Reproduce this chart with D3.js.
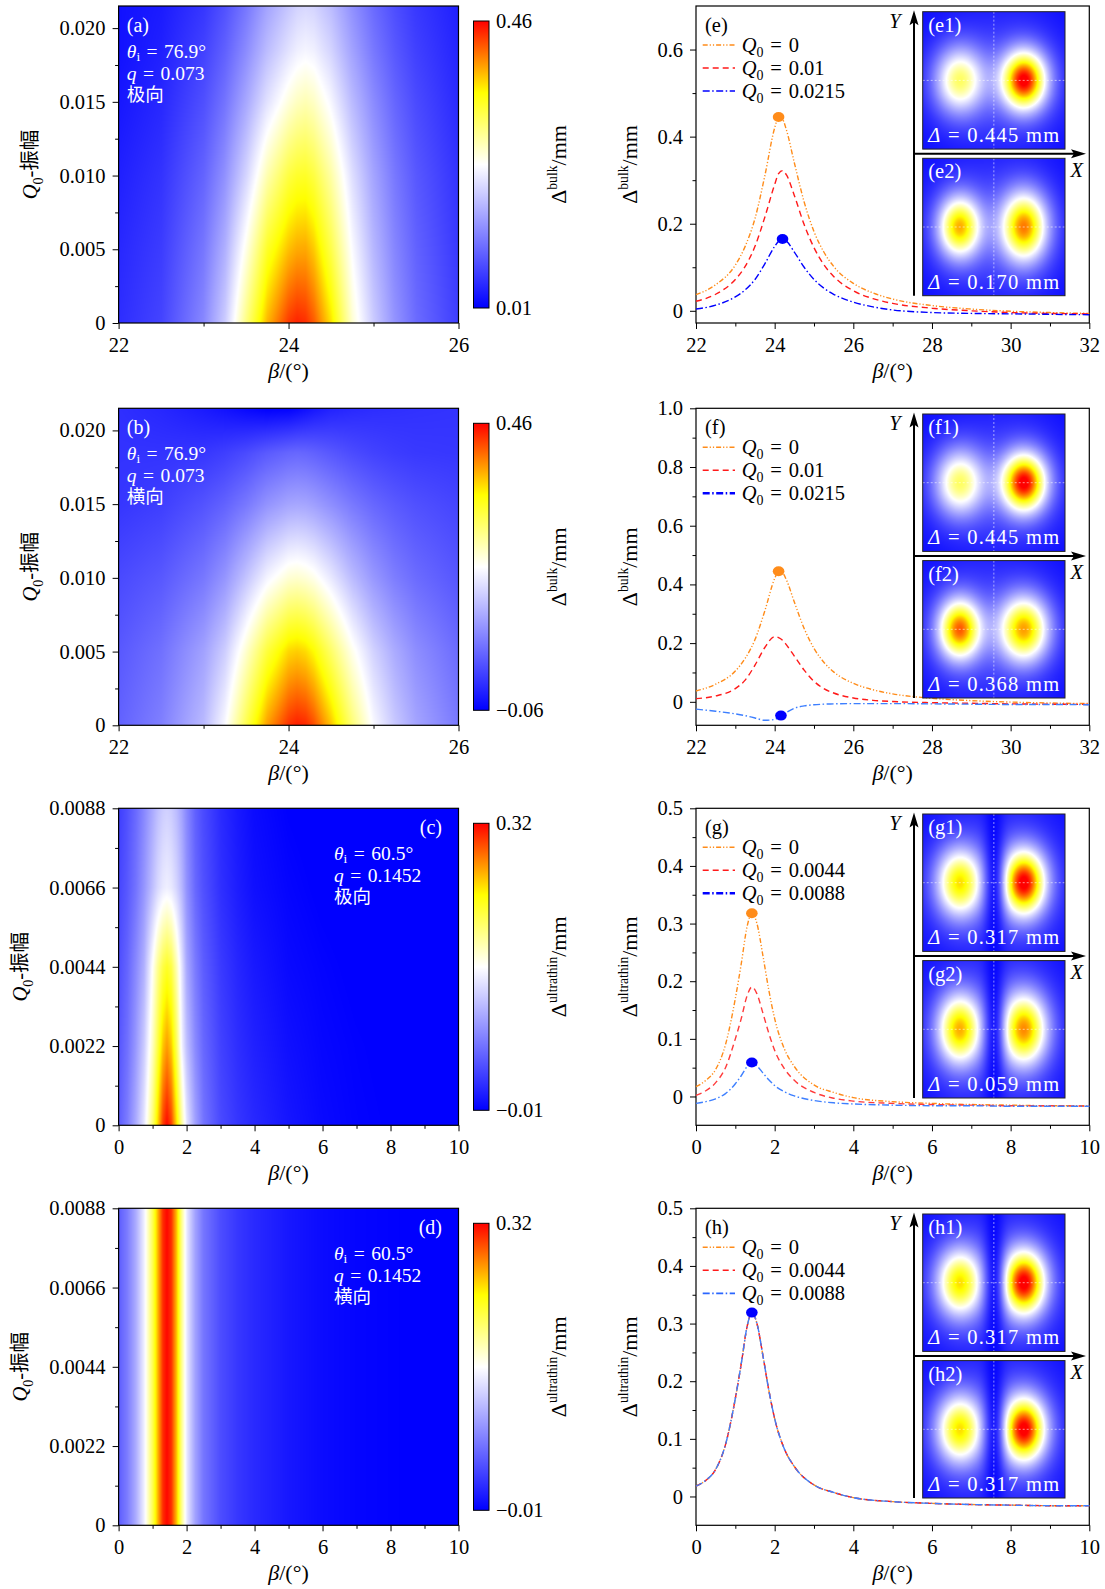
<!DOCTYPE html>
<html><head><meta charset="utf-8">
<script src="https://cdn.jsdelivr.net/npm/d3@7/dist/d3.min.js"></script>
<style>
html,body{margin:0;padding:0;background:#fff}
svg{display:block}
svg text{font-family:"Liberation Serif","Noto Sans CJK SC",serif;white-space:pre}
</style></head><body>
<svg id="fig" width="1105" height="1589" viewBox="0 0 1105 1589"></svg>
<script>
// ================= DATA =================
// bulk curves (panels e, f)
const betaBulk = [22,22.5,23,23.25,23.5,23.75,24,24.1,24.2,24.3,24.5,24.75,25,25.25,25.5,26,26.5,27,28,29,30,31,32];
const bulkQ0_0      = [0.037,0.06,0.105,0.148,0.212,0.31,0.42,0.445,0.44,0.415,0.34,0.25,0.182,0.135,0.102,0.063,0.041,0.027,0.012,0.004,-0.001,-0.004,-0.006];
const ePolarQ0_010  = [0.022,0.038,0.072,0.102,0.148,0.215,0.29,0.315,0.322,0.312,0.265,0.198,0.145,0.106,0.079,0.046,0.028,0.017,0.006,0.0,-0.004,-0.006,-0.007];
const ePolarQ0_0215 = [0.004,0.013,0.032,0.048,0.072,0.108,0.148,0.16,0.165,0.16,0.135,0.1,0.072,0.052,0.038,0.02,0.009,0.002,-0.004,-0.006,-0.007,-0.008,-0.009];
const fTransQ0_010  = [0.011,0.02,0.045,0.074,0.125,0.185,0.222,0.219,0.21,0.194,0.156,0.108,0.07,0.045,0.03,0.013,0.005,0.001,-0.003,-0.005,-0.007,-0.008,-0.009];
const fTransQ0_0215 = [-0.025,-0.032,-0.041,-0.047,-0.055,-0.063,-0.06,-0.053,-0.045,-0.036,-0.022,-0.014,-0.01,-0.008,-0.007,-0.006,-0.006,-0.006,-0.007,-0.008,-0.009,-0.009,-0.01];
// ultrathin curves (panels g, h)
const betaThin = [0,0.25,0.5,0.75,1,1.15,1.3,1.42,1.55,1.7,1.85,2,2.25,2.5,3,3.5,4,5,6,7,8,9,10];
const gPolarQ0_0    = [0.017,0.028,0.047,0.09,0.17,0.23,0.295,0.318,0.3,0.245,0.185,0.135,0.082,0.052,0.02,0.007,-0.002,-0.009,-0.012,-0.014,-0.015,-0.016,-0.016];
const gPolarQ0_0044 = [0.002,0.01,0.024,0.05,0.1,0.135,0.175,0.19,0.178,0.145,0.11,0.08,0.048,0.028,0.007,-0.003,-0.008,-0.012,-0.014,-0.015,-0.016,-0.016,-0.017];
const gPolarQ0_0088 = [-0.012,-0.009,-0.004,0.005,0.022,0.036,0.052,0.059,0.053,0.041,0.029,0.019,0.008,0.001,-0.007,-0.011,-0.013,-0.015,-0.016,-0.016,-0.017,-0.017,-0.017];
const hTransAllQ0   = [0.018,0.028,0.047,0.09,0.17,0.23,0.295,0.319,0.3,0.245,0.185,0.135,0.082,0.052,0.02,0.007,-0.002,-0.009,-0.012,-0.014,-0.015,-0.016,-0.016];

// heat-map grids (rows = Q0, columns = beta)
const heatBetaBulk = [22,22.5,23,23.25,23.5,23.75,24,24.1,24.2,24.3,24.5,24.75,25,25.25,25.5,26];
const heatQ0Bulk = [0,0.005,0.01,0.015,0.0185,0.0215];
const heatA = [
  [0.05,0.07,0.13,0.19,0.29,0.38,0.435,0.445,0.44,0.42,0.36,0.255,0.19,0.14,0.105,0.065],
  [0.045,0.063,0.115,0.165,0.245,0.33,0.375,0.385,0.386,0.37,0.315,0.232,0.172,0.128,0.097,0.06],
  [0.038,0.055,0.098,0.138,0.198,0.27,0.318,0.328,0.33,0.318,0.275,0.207,0.155,0.116,0.088,0.055],
  [0.03,0.045,0.08,0.112,0.158,0.21,0.25,0.262,0.268,0.26,0.228,0.175,0.133,0.1,0.076,0.047],
  [0.025,0.038,0.068,0.095,0.133,0.177,0.21,0.221,0.226,0.222,0.197,0.153,0.116,0.088,0.067,0.042],
  [0.025,0.034,0.058,0.082,0.115,0.155,0.185,0.196,0.2,0.197,0.176,0.137,0.104,0.079,0.06,0.038]
];
const heatB = [
  [0.04,0.07,0.13,0.195,0.29,0.38,0.435,0.445,0.44,0.42,0.36,0.27,0.195,0.145,0.108,0.064],
  [0.03,0.055,0.105,0.15,0.225,0.3,0.35,0.355,0.348,0.33,0.278,0.21,0.155,0.115,0.085,0.05],
  [0.015,0.03,0.062,0.092,0.14,0.19,0.222,0.225,0.22,0.21,0.178,0.132,0.095,0.068,0.05,0.028],
  [-0.005,0.004,0.025,0.04,0.062,0.09,0.108,0.11,0.108,0.102,0.085,0.063,0.045,0.032,0.022,0.01],
  [-0.008,-0.008,-0.004,0.004,0.016,0.032,0.043,0.045,0.043,0.039,0.029,0.017,0.008,0.002,-0.002,-0.004],
  [-0.012,-0.02,-0.033,-0.042,-0.052,-0.06,-0.058,-0.052,-0.045,-0.037,-0.025,-0.018,-0.014,-0.012,-0.01,-0.008]
];
const heatQ0Thin = [0,0.0022,0.0044,0.0066,0.0088];
const heatC = [
  [0.05,0.07,0.1,0.14,0.2,0.25,0.3,0.318,0.3,0.25,0.19,0.14,0.095,0.065,0.038,0.025,0.016,0.004,-0.004,-0.008,-0.01,-0.012,-0.013],
  [0.045,0.062,0.088,0.122,0.175,0.215,0.255,0.27,0.255,0.21,0.15,0.115,0.08,0.057,0.033,0.02,0.011,0.0,-0.006,-0.009,-0.011,-0.012,-0.013],
  [0.04,0.055,0.078,0.105,0.157,0.19,0.215,0.225,0.215,0.18,0.14,0.1,0.07,0.05,0.028,0.015,0.006,-0.004,-0.008,-0.011,-0.012,-0.013,-0.014],
  [0.035,0.047,0.064,0.087,0.114,0.13,0.141,0.145,0.141,0.128,0.11,0.085,0.058,0.042,0.021,0.009,0.0,-0.007,-0.011,-0.013,-0.014,-0.015,-0.015],
  [0.03,0.042,0.058,0.078,0.1,0.113,0.122,0.125,0.122,0.112,0.097,0.078,0.053,0.038,0.018,0.006,-0.003,-0.01,-0.013,-0.015,-0.016,-0.016,-0.017]
];
const heatQ0ThinD = [0,0.0088];
const heatDRow = [0.05,0.07,0.1,0.145,0.21,0.26,0.305,0.318,0.305,0.26,0.195,0.142,0.095,0.066,0.04,0.026,0.017,0.005,-0.003,-0.007,-0.009,-0.011,-0.012];
const heatD = [heatDRow, heatDRow];

// colour bars
const cbarLimits = [[0.01,0.46],[-0.06,0.46],[-0.01,0.32],[-0.01,0.32]];
const cbarLabels = [["0.46","0.01"],["0.46","\u22120.06"],["0.32","\u22120.01"],["0.32","\u22120.01"]];
// legends
const legendQ0 = [["0","0.01","0.0215"],["0","0.01","0.0215"],["0","0.0044","0.0088"],["0","0.0044","0.0088"]];
// inset beam spots: peak level (fraction of colour bar) [left,right]
const insetNames = [["(e1)","(e2)"],["(f1)","(f2)"],["(g1)","(g2)"],["(h1)","(h2)"]];
const insetDelta = [["0.445","0.170"],["0.445","0.368"],["0.317","0.059"],["0.317","0.317"]];
const spotPeak = [[[0.62,1.0],[0.8,0.86]],[[0.62,1.0],[0.88,0.82]],[[0.75,1.0],[0.8,0.84]],[[0.75,1.0],[0.75,1.0]]];
const spotSigma = [
  [[[17.5,23.5],[16,21]],[[15.2,22],[16.5,24.8]]],
  [[[17.5,23.5],[16,21]],[[15.2,21.6],[17.5,23.5]]],
  [[[16.4,24.5],[15.6,23.5]],[[15.8,25.3],[16.6,26.2]]],
  [[[16.4,24.5],[15.6,23.5]],[[16.4,24.5],[15.6,23.5]]]
];
const insetDip = [0,0,0.85,0.85];

// ================= LAYOUT / HELPERS =================
const svg = d3.select('#fig');
const tops = [6, 408.3, 808.3, 1208.3];
const PH = 317;
const L = {x0:118.6, x1:458.5}, R = {x0:696, x1:1089.3};
const ORANGE = '#ff8c1a', RED = '#ff1a1a', BLUE = '#0000ff', LBLUE = '#3d7fff';
const DASH_O = '5,2,1.2,2,1.2,2', DASH_R = '6,4', DASH_B = '7,2.5,1.5,2.5';
const EQ = '\u2004=\u2004';

function makeColor(lo, hi) {
  return d3.scaleLinear().domain([0,0.5,0.75,1].map(f => lo + f*(hi-lo)))
    .range(['#0000ff','#ffffff','#ffff00','#ff0000']).clamp(true);
}
function lerp1(xs, vs, x) {
  let i = d3.bisectRight(xs, x) - 1;
  i = Math.max(0, Math.min(xs.length - 2, i));
  let t = (x - xs[i]) / (xs[i+1] - xs[i]);
  t = Math.max(0, Math.min(1, t));
  return vs[i] + (vs[i+1] - vs[i]) * t;
}
function rich(sel, parts, fs, subShift) {
  let shift = 0;
  const ss = subShift === undefined ? 0.3 : subShift;
  parts.forEach(p => {
    const ts = sel.append('tspan').text(p.t);
    let target = 0, size = fs;
    if (p.sub) { target = fs*ss; size = fs*0.68; }
    if (p.sup) { target = -fs*0.42; size = fs*0.62; }
    if (p.it) ts.attr('font-style','italic');
    ts.attr('font-size', size);
    if (target !== shift) { ts.attr('dy', target - shift); shift = target; }
  });
  return sel;
}
function lut(color, lo, hi) {
  const N = 1024;
  return {N, lo, hi, c: d3.range(N).map(i => d3.rgb(color(lo + (hi-lo)*i/(N-1))))};
}
function heatImage(x, y, W, H, betas, q0s, grid, color, lo, hi) {
  const cw = Math.round(W), ch = Math.round(H);
  const cv = document.createElement('canvas'); cv.width = cw; cv.height = ch;
  const ctx = cv.getContext('2d'); const img = ctx.createImageData(cw, ch);
  const T = lut(color, lo, hi);
  const colVals = [];
  for (let px = 0; px < cw; px++) {
    const b = x.invert((px + 0.5) * W / cw);
    colVals.push(grid.map(row => lerp1(betas, row, b)));
  }
  for (let py = 0; py < ch; py++) {
    const q = y.invert((py + 0.5) * H / ch);
    for (let px = 0; px < cw; px++) {
      const v = lerp1(q0s, colVals[px], q);
      let t = Math.round((v - lo)/(hi - lo)*(T.N-1)); t = Math.max(0, Math.min(T.N-1, t));
      const c = T.c[t], k = (py*cw + px)*4;
      img.data[k]=c.r; img.data[k+1]=c.g; img.data[k+2]=c.b; img.data[k+3]=255;
    }
  }
  ctx.putImageData(img, 0, 0);
  return cv.toDataURL();
}
function fmtTick(dec) { return d => d === 0 ? '0' : d3.format('.' + dec + 'f')(d); }
function drawAxes(g, x, y, W, H, c) {
  const gx = g.append('g').attr('transform', `translate(0,${H})`)
    .call(d3.axisBottom(x).tickValues(c.xMaj).tickSize(6).tickPadding(8).tickFormat(d3.format('d')));
  gx.select('.domain').remove();
  const gxm = g.append('g').attr('transform', `translate(0,${H})`)
    .call(d3.axisBottom(x).tickValues(c.xMin).tickSize(3.5).tickFormat(''));
  gxm.select('.domain').remove();
  const gy = g.append('g').call(d3.axisLeft(y).tickValues(c.yMaj).tickSize(6).tickPadding(7).tickFormat(fmtTick(c.ydec)));
  gy.select('.domain').remove();
  const gym = g.append('g').call(d3.axisLeft(y).tickValues(c.yMin).tickSize(3.5).tickFormat(''));
  gym.select('.domain').remove();
  [gx, gxm, gy, gym].forEach(a => { a.attr('font-size', 20.5); a.selectAll('line').attr('stroke','#000').attr('stroke-width',1); });
  g.append('rect').attr('width', W).attr('height', H).attr('fill','none').attr('stroke','#000').attr('stroke-width',1.2);
  g.append('text').attr('x', W/2).attr('y', H + 54.5).attr('text-anchor','middle')
    .call(s => rich(s, [{t:'β', it:true},{t:'/(°)'}], 22));
}
// colour-bar gradient
const defs = svg.append('defs');
const grad = defs.append('linearGradient').attr('id','cbgrad').attr('x1',0).attr('y1',1).attr('x2',0).attr('y2',0);
[[0,'#0000ff'],[0.5,'#ffffff'],[0.75,'#ffff00'],[1,'#ff0000']].forEach(s => grad.append('stop').attr('offset', s[0]).attr('stop-color', s[1]));

// ================= LEFT PANELS (heat maps) =================
const leftCfg = [
  {id:'(a)', xd:[22,26], xMaj:[22,24,26], xMin:[23,25], yd:[0,0.0215], yMaj:[0,0.005,0.01,0.015,0.02], yMin:[0.0025,0.0075,0.0125,0.0175], ydec:3,
   betas:heatBetaBulk, q0s:heatQ0Bulk, grid:heatA, sup:'bulk', theta:'76.9°', q:'0.073', mode:'极向', right:false, ylabX:37},
  {id:'(b)', xd:[22,26], xMaj:[22,24,26], xMin:[23,25], yd:[0,0.0215], yMaj:[0,0.005,0.01,0.015,0.02], yMin:[0.0025,0.0075,0.0125,0.0175], ydec:3,
   betas:heatBetaBulk, q0s:heatQ0Bulk, grid:heatB, sup:'bulk', theta:'76.9°', q:'0.073', mode:'横向', right:false, ylabX:37},
  {id:'(c)', xd:[0,10], xMaj:[0,2,4,6,8,10], xMin:[1,3,5,7,9], yd:[0,0.0088], yMaj:[0,0.0022,0.0044,0.0066,0.0088], yMin:[0.0011,0.0033,0.0055,0.0077], ydec:4,
   betas:betaThin, q0s:heatQ0Thin, grid:heatC, sup:'ultrathin', theta:'60.5°', q:'0.1452', mode:'极向', right:true, ylabX:26.5},
  {id:'(d)', xd:[0,10], xMaj:[0,2,4,6,8,10], xMin:[1,3,5,7,9], yd:[0,0.0088], yMaj:[0,0.0022,0.0044,0.0066,0.0088], yMin:[0.0011,0.0033,0.0055,0.0077], ydec:4,
   betas:betaThin, q0s:heatQ0ThinD, grid:heatD, sup:'ultrathin', theta:'60.5°', q:'0.1452', mode:'横向', right:true, ylabX:26.5}
];
leftCfg.forEach((c, i) => {
  const top = tops[i], W = L.x1 - L.x0, H = PH;
  const g = svg.append('g').attr('transform', `translate(${L.x0},${top})`);
  const x = d3.scaleLinear().domain(c.xd).range([0, W]);
  const y = d3.scaleLinear().domain(c.yd).range([H, 0]);
  const [lo, hi] = cbarLimits[i];
  const color = makeColor(lo, hi);
  g.append('image').attr('href', heatImage(x, y, W, H, c.betas, c.q0s, c.grid, color, lo, hi))
    .attr('x',0).attr('y',0).attr('width',W).attr('height',H).attr('preserveAspectRatio','none');
  drawAxes(g, x, y, W, H, c);
  // annotations
  const ax = c.right ? 215.4 : 8.2;
  g.append('text').attr('x', c.right ? 323.4 : 8.2).attr('y', 25.5).attr('text-anchor', c.right ? 'end' : 'start')
    .attr('fill','#fff').attr('font-size',20).text(c.id);
  g.append('text').attr('x', ax).attr('y', 51.5).attr('fill','#fff')
    .call(s => rich(s, [{t:'θ', it:true},{t:'i', sub:true},{t:EQ + c.theta}], 19.5, 0.16));
  g.append('text').attr('x', ax).attr('y', 73.5).attr('fill','#fff')
    .call(s => rich(s, [{t:'q', it:true},{t:EQ + c.q}], 19.5));
  g.append('text').attr('x', ax).attr('y', 95).attr('fill','#fff').attr('font-size',18.5).text(c.mode);
  // y label
  svg.append('text').attr('transform', `translate(${c.ylabX},${top + H/2}) rotate(-90)`).attr('text-anchor','middle')
    .call(s => rich(s, [{t:'Q', it:true},{t:'0', sub:true},{t:'-振幅'}], 20.5));
  // colour bar
  const cbx = 473.5, cby = top + 15, cbw = 15.5, cbh = H - 30;
  svg.append('rect').attr('x', cbx).attr('y', cby).attr('width', cbw).attr('height', cbh)
    .attr('fill','url(#cbgrad)').attr('stroke','#000').attr('stroke-width',1);
  svg.append('text').attr('x', 496).attr('y', cby + 7).attr('font-size',20.5).text(cbarLabels[i][0]);
  svg.append('text').attr('x', 496).attr('y', cby + cbh + 7).attr('font-size',20.5).text(cbarLabels[i][1]);
  svg.append('text').attr('transform', `translate(566,${cby + cbh/2}) rotate(-90)`).attr('text-anchor','middle')
    .call(s => rich(s, [{t:'Δ'},{t:c.sup, sup:true},{t:'/mm'}], 22));
});

// ================= RIGHT PANELS (curves + insets) =================
const rightCfg = [
  {id:'(e)', xd:[22,32], xMaj:[22,24,26,28,30,32], xMin:[23,25,27,29,31], yd:[-0.028,0.7], yMaj:[0,0.2,0.4,0.6], yMin:[0.1,0.3,0.5], ydec:1,
   betas:betaBulk, sup:'bulk',
   series:[{v:bulkQ0_0,c:ORANGE,d:DASH_O},{v:ePolarQ0_010,c:RED,d:DASH_R},{v:ePolarQ0_0215,c:BLUE,d:DASH_B}],
   leg:[{c:ORANGE,d:DASH_O,w:1.6},{c:RED,d:DASH_R,w:1.6},{c:BLUE,d:DASH_B,w:1.6}],
   dots:[{b:24.1,v:0.445,c:ORANGE},{b:24.2,v:0.165,c:BLUE}]},
  {id:'(f)', xd:[22,32], xMaj:[22,24,26,28,30,32], xMin:[23,25,27,29,31], yd:[-0.08,1.0], yMaj:[0,0.2,0.4,0.6,0.8,1.0], yMin:[0.1,0.3,0.5,0.7,0.9], ydec:1,
   betas:betaBulk, sup:'bulk',
   series:[{v:bulkQ0_0,c:ORANGE,d:DASH_O},{v:fTransQ0_010,c:RED,d:DASH_R},{v:fTransQ0_0215,c:LBLUE,d:DASH_B}],
   leg:[{c:ORANGE,d:DASH_O,w:1.6},{c:RED,d:DASH_R,w:1.6},{c:BLUE,d:DASH_B,w:2.6}],
   dots:[{b:24.1,v:0.445,c:ORANGE},{b:24.16,v:-0.047,c:BLUE}]},
  {id:'(g)', xd:[0,10], xMaj:[0,2,4,6,8,10], xMin:[1,3,5,7,9], yd:[-0.05,0.5], yMaj:[0,0.1,0.2,0.3,0.4,0.5], yMin:[0.05,0.15,0.25,0.35,0.45], ydec:1,
   betas:betaThin, sup:'ultrathin',
   series:[{v:gPolarQ0_0,c:ORANGE,d:DASH_O},{v:gPolarQ0_0044,c:'#ff3a3a',d:DASH_R},{v:gPolarQ0_0088,c:LBLUE,d:DASH_B}],
   leg:[{c:ORANGE,d:DASH_O,w:1.6},{c:RED,d:DASH_R,w:1.6},{c:BLUE,d:DASH_B,w:2.6}],
   dots:[{b:1.42,v:0.318,c:ORANGE},{b:1.42,v:0.059,c:BLUE}]},
  {id:'(h)', xd:[0,10], xMaj:[0,2,4,6,8,10], xMin:[1,3,5,7,9], yd:[-0.05,0.5], yMaj:[0,0.1,0.2,0.3,0.4,0.5], yMin:[0.05,0.15,0.25,0.35,0.45], ydec:1,
   betas:betaThin, sup:'ultrathin',
   series:[{v:hTransAllQ0,c:ORANGE,d:DASH_O},{v:hTransAllQ0,c:RED,d:DASH_R},{v:hTransAllQ0,c:LBLUE,d:DASH_B}],
   leg:[{c:ORANGE,d:DASH_O,w:1.6},{c:RED,d:DASH_R,w:1.6},{c:'#2a66ff',d:DASH_B,w:1.8}],
   dots:[{b:1.42,v:0.319,c:BLUE}]}
];
const insetColor = makeColor(0, 1);
const insetLut = lut(insetColor, 0, 1);
function insetImage(w, h, peaks, sig, dip) {
  const cw = Math.round(w), ch = Math.round(h);
  const cv = document.createElement('canvas'); cv.width = cw; cv.height = ch;
  const ctx = cv.getContext('2d'); const img = ctx.createImageData(cw, ch);
  const sx = [0.258*cw, 0.713*cw], sy = 0.5*ch;
  for (let py = 0; py < ch; py++) for (let px = 0; px < cw; px++) {
    let v = 0;
    for (let k = 0; k < 2; k++) {
      const dx = (px + 0.5 - sx[k]) / sig[k][0], dy = (py + 0.5 - sy) / sig[k][1];
      const r2 = dx*dx + dy*dy;
      v += peaks[k] * (0.88*Math.exp(-r2/2) + 0.12*Math.exp(-r2/12.5));
    }
    if (dip) v *= 1 - dip*Math.exp(-Math.pow((px + 0.5 - 0.5*cw)/7, 2)/2);
    let t = Math.round(v*(insetLut.N-1)); t = Math.max(0, Math.min(insetLut.N-1, t));
    const c = insetLut.c[t], k4 = (py*cw + px)*4;
    img.data[k4]=c.r; img.data[k4+1]=c.g; img.data[k4+2]=c.b; img.data[k4+3]=255;
  }
  ctx.putImageData(img, 0, 0);
  return cv.toDataURL();
}
rightCfg.forEach((c, i) => {
  const top = tops[i], W = R.x1 - R.x0, H = PH;
  const g = svg.append('g').attr('transform', `translate(${R.x0},${top})`);
  const x = d3.scaleLinear().domain(c.xd).range([0, W]);
  const y = d3.scaleLinear().domain(c.yd).range([H, 0]);
  drawAxes(g, x, y, W, H, c);
  const line = d3.line().x((d, j) => x(c.betas[j])).y(d => y(d)).curve(d3.curveMonotoneX);
  c.series.forEach(s => g.append('path').attr('d', line(s.v)).attr('fill','none').attr('stroke', s.c)
    .attr('stroke-width', 1.4).attr('stroke-dasharray', s.d));
  c.dots.forEach(d => g.append('ellipse').attr('cx', x(d.b)).attr('cy', y(d.v)).attr('rx', 5.8).attr('ry', 5).attr('fill', d.c));
  // legend
  g.append('text').attr('x', 9).attr('y', 26).attr('font-size', 20.5).text(c.id);
  legendQ0[i].forEach((q, k) => {
    const yy = 39 + k*23;
    g.append('line').attr('x1', 6.7).attr('x2', 39).attr('y1', yy).attr('y2', yy)
      .attr('stroke', c.leg[k].c).attr('stroke-width', c.leg[k].w).attr('stroke-dasharray', c.leg[k].d);
    g.append('text').attr('x', 45.7).attr('y', yy + 6.5)
      .call(s => rich(s, [{t:'Q', it:true},{t:'0', sub:true},{t:EQ + q}], 20.5, 0.25));
  });
  // y label
  svg.append('text').attr('transform', `translate(637,${top + H/2}) rotate(-90)`).attr('text-anchor','middle')
    .call(s => rich(s, [{t:'Δ'},{t:c.sup, sup:true},{t:'/mm'}], 22));
  // insets
  const ix = 226.7, iw = 142.3, ih = 137.4, iy1 = 5.7, iy2 = iy1 + 146.6;
  [iy1, iy2].forEach((iy, k) => {
    const ig = g.append('g').attr('transform', `translate(${ix},${iy})`);
    ig.append('image').attr('href', insetImage(iw, ih, spotPeak[i][k], spotSigma[i][k], insetDip[i]))
      .attr('width', iw).attr('height', ih).attr('preserveAspectRatio','none');
    ig.append('line').attr('x1', iw/2).attr('x2', iw/2).attr('y1', 0).attr('y2', ih)
      .attr('stroke','#fff').attr('stroke-opacity',0.55).attr('stroke-width',1).attr('stroke-dasharray','2,2');
    ig.append('line').attr('x1', 0).attr('x2', iw).attr('y1', ih/2).attr('y2', ih/2)
      .attr('stroke','#fff').attr('stroke-opacity',0.55).attr('stroke-width',1).attr('stroke-dasharray','2,2');
    ig.append('rect').attr('width', iw).attr('height', ih).attr('fill','none').attr('stroke','#222').attr('stroke-width',1);
    ig.append('text').attr('x', 5.5).attr('y', 20).attr('fill','#fff').attr('font-size', 20.5).text(insetNames[i][k]);
    ig.append('text').attr('x', 5.5).attr('y', ih - 7).attr('fill','#fff').attr('textLength', 131).attr('lengthAdjust','spacing')
      .call(s => rich(s, [{t:'Δ', it:true},{t:' = ' + insetDelta[i][k] + ' mm'}], 20.5));
  });
  // axes arrows
  const axX = 218, tipY = 4.3, xArrY = iy1 + ih + 4.6, tipX = 390;
  g.append('line').attr('x1', axX).attr('x2', axX).attr('y1', iy2 + ih).attr('y2', tipY + 10).attr('stroke','#000').attr('stroke-width',2);
  g.append('path').attr('d', `M${axX},${tipY} L${axX-4.5},${tipY+15} L${axX},${tipY+12} L${axX+4.5},${tipY+15} Z`).attr('fill','#000');
  g.append('line').attr('x1', axX).attr('x2', tipX - 10).attr('y1', xArrY).attr('y2', xArrY).attr('stroke','#000').attr('stroke-width',2);
  g.append('path').attr('d', `M${tipX},${xArrY} L${tipX-15},${xArrY-4.5} L${tipX-12},${xArrY} L${tipX-15},${xArrY+4.5} Z`).attr('fill','#000');
  g.append('text').attr('x', 199).attr('y', 22).attr('text-anchor','middle').attr('font-style','italic').attr('font-size',20.5).text('Y');
  g.append('text').attr('x', 380.7).attr('y', xArrY + 23).attr('text-anchor','middle').attr('font-style','italic').attr('font-size',20.5).text('X');
});
</script></body></html>
